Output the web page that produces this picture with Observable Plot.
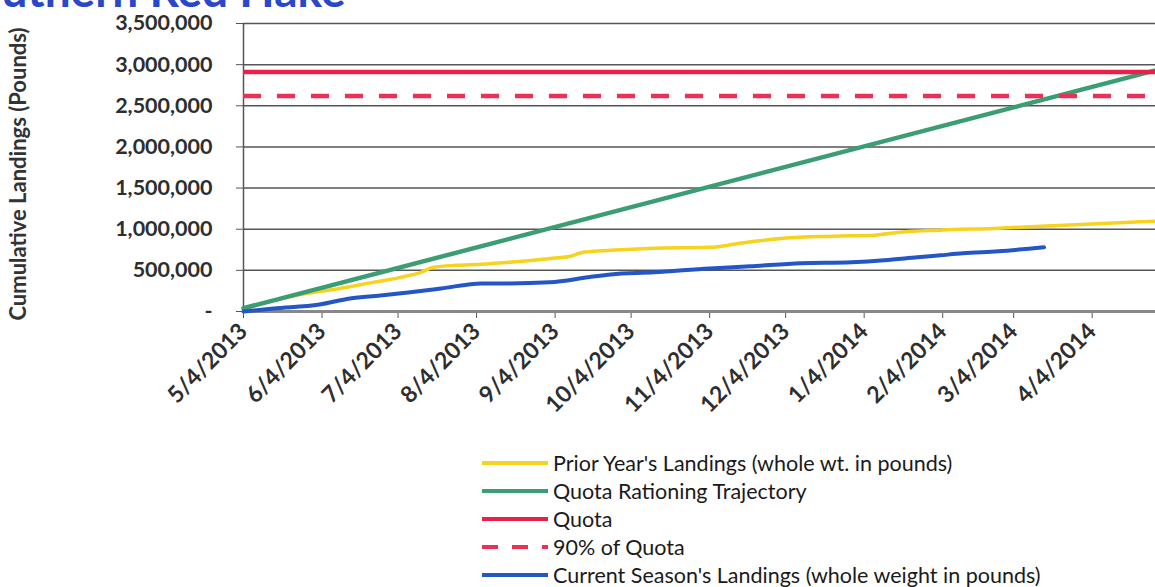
<!DOCTYPE html>
<html>
<head>
<meta charset="utf-8">
<script src="https://cdn.jsdelivr.net/npm/d3@7"></script>
<script src="https://cdn.jsdelivr.net/npm/@observablehq/plot@0.6"></script>
<style>
  html, body { margin: 0; padding: 0; background: #fff; }
  #wrap { position: relative; width: 1155px; height: 587px; overflow: hidden; background: #fff; font-family: Lato, "Open Sans", sans-serif; }
  #titlebox { position: absolute; left: 0; top: 0; width: 400px; height: 9px; overflow: hidden; }
  #title { position: absolute; left: -50px; top: -27px; font: bold 46px Lato, sans-serif; color: #2b47c9; line-height: 34px; height: 34px; white-space: nowrap; }
  #ytitle { position: absolute; left: 17px; top: 174px; transform: translate(-50%, -50%) rotate(-90deg); font: bold 22px Lato, sans-serif; color: #333; white-space: nowrap; }
  #chart { position: absolute; left: 0; top: 0; }
  #legend { position: absolute; left: 482px; top: 449px; font: 21.5px Lato, sans-serif; color: #1a1a1a; }
  .row { display: flex; align-items: center; height: 28px; }
  .row svg { margin-right: 5px; }
</style>
</head>
<body>
<div id="wrap">
  <div id="chart"></div>
  <div id="titlebox"><div id="title">Southern Red Hake</div></div>
  <div id="ytitle">Cumulative Landings (Pounds)</div>
  <div id="legend"></div>
</div>
<script>
// ---- data ----
const seasonStart = "2013-05-04";
const seasonEnd = "2014-04-29";

const xTickDates = ["2013-05-04","2013-06-04","2013-07-04","2013-08-04","2013-09-04","2013-10-04",
                    "2013-11-04","2013-12-04","2014-01-04","2014-02-04","2014-03-04","2014-04-04"];
const yTicks = [0, 500000, 1000000, 1500000, 2000000, 2500000, 3000000, 3500000];

const priorDates = ["2013-05-04","2013-05-16","2013-05-29","2013-06-11","2013-06-24","2013-07-05",
  "2013-07-13","2013-07-18","2013-07-27","2013-08-06","2013-08-17","2013-09-03","2013-09-10",
  "2013-09-15","2013-09-26","2013-10-13","2013-11-04","2013-11-16","2013-12-03","2013-12-23",
  "2014-01-08","2014-01-18","2014-02-03","2014-02-26","2014-03-24","2014-04-19","2014-04-29"];
const priorValues = [30000,134000,220000,280000,354000,415000,
  476000,537000,561000,573000,598000,646000,671000,
  720000,744000,768000,780000,829000,890000,915000,
  927000,963000,988000,1012000,1049000,1085000,1098000];

const currentDates = ["2013-05-04","2013-05-16","2013-06-03","2013-06-15","2013-06-27","2013-07-08",
  "2013-07-21","2013-08-06","2013-08-17","2013-09-02","2013-09-17","2013-09-26","2013-10-13",
  "2013-11-04","2013-11-20","2013-12-10","2013-12-30","2014-01-12","2014-01-25","2014-02-03",
  "2014-02-12","2014-02-26","2014-03-16"];
const currentValues = [0,37000,85000,159000,195000,232000,
  280000,341000,341000,354000,415000,451000,476000,
  524000,549000,585000,598000,622000,659000,683000,
  707000,732000,780000];

const trajectoryDates = ["2013-05-04","2014-04-29"];
const trajectoryValues = [40000, 2930000];

const quota = 2910000;
const quotaShare = 0.9;

const seriesNames = ["Prior Year's Landings (whole wt. in pounds)", "Quota Rationing Trajectory",
  "Quota", "90% of Quota", "Current Season's Landings (whole weight in pounds)"];
const seriesColors = ["#f7d21e", "#3a9e72", "#e8204a", "#ee2f55", "#2456c6"];

// ---- build ----
const toRows = (dates, vals) => dates.map((d, i) => ({date: new Date(d), value: vals[i]}));
const prior = toRows(priorDates, priorValues);
const current = toRows(currentDates, currentValues);
const trajectory = toRows(trajectoryDates, trajectoryValues);

const chart = Plot.plot({
  width: 1155,
  height: 440,
  marginLeft: 243,
  marginRight: 0,
  marginTop: 23,
  marginBottom: 129,
  style: {fontFamily: "Lato, sans-serif", fontSize: "21px", fontWeight: "bold", color: "#2e2e2e", background: "transparent", overflow: "visible"},
  x: {type: "utc", domain: [new Date(seasonStart), new Date(seasonEnd)]},
  y: {domain: [0, 3500000]},
  marks: [
    Plot.gridY(yTicks, {stroke: "#555", strokeOpacity: 1, strokeWidth: 1.5}),
    Plot.axisY({ticks: yTicks, tickFormat: d => d === 0 ? "-" : d3.format(",")(d), tickSize: 7, tickPadding: 24, label: null, stroke: "#555", fontSize: 21.5}),
    Plot.axisX({ticks: xTickDates.map(d => new Date(d)), tickFormat: d3.utcFormat("%-m/%-d/%Y"), tickRotate: -45, tickSize: 7, tickPadding: 9, label: null, stroke: "#555", fontSize: 23}),
    Plot.ruleX([new Date(seasonStart)], {stroke: "#555", strokeWidth: 1.5}),
    Plot.ruleY([0], {stroke: "#888", strokeWidth: 3}),
    Plot.line(prior, {x: "date", y: "value", stroke: seriesColors[0], strokeWidth: 3.5, curve: "monotone-x"}),
    Plot.line(trajectory, {x: "date", y: "value", stroke: seriesColors[1], strokeWidth: 4.5}),
    Plot.ruleY([quota], {stroke: seriesColors[2], strokeWidth: 4.5}),
    Plot.ruleY([quota * quotaShare], {stroke: seriesColors[3], strokeWidth: 4.5, strokeDasharray: "18,16"}),
    Plot.line(current, {x: "date", y: "value", stroke: seriesColors[4], strokeWidth: 4, curve: "monotone-x"})
  ]
});
document.getElementById("chart").appendChild(chart);

// ---- legend ----
const legend = document.getElementById("legend");
seriesNames.forEach((name, i) => {
  const row = document.createElement("div");
  row.className = "row";
  const dash = i === 3 ? 'stroke-dasharray="16,14"' : "";
  row.innerHTML = `<svg width="66" height="10"><line x1="0" x2="66" y1="5" y2="5" stroke="${seriesColors[i]}" stroke-width="4" ${dash}/></svg><span>${name}</span>`;
  legend.appendChild(row);
});
</script>
</body>
</html>
